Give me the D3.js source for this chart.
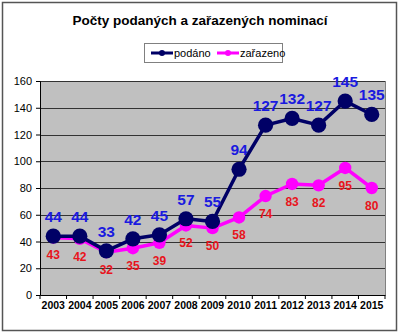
<!DOCTYPE html>
<html>
<head>
<meta charset="utf-8">
<script src="https://cdn.jsdelivr.net/npm/d3@7"></script>
<style>
  html, body { margin: 0; padding: 0; background: #fff; }
  svg { display: block; font-family: Arial, "Liberation Sans", sans-serif; }
</style>
</head>
<body>
<svg id="chart" width="399" height="334"></svg>
<script>
// Nominations per year
const years = ["2003","2004","2005","2006","2007","2008","2009","2010","2011","2012","2013","2014","2015"];
const podano = [44, 44, 33, 42, 45, 57, 55, 94, 127, 132, 127, 145, 135];
const zarazeno = [43, 42, 32, 35, 39, 52, 50, 58, 74, 83, 82, 95, 80];
const yTicks = [0, 20, 40, 60, 80, 100, 120, 140, 160];

const svg = d3.select("#chart");
const plot = { left: 40, right: 385, top: 81, bottom: 295 };

// outer frame
svg.append("rect")
  .attr("x", 2.5).attr("y", 2.5).attr("width", 394).attr("height", 328)
  .attr("fill", "#fff").attr("stroke", "#555").attr("stroke-width", 1.5);

// title
svg.append("text")
  .attr("x", 200).attr("y", 25)
  .attr("text-anchor", "middle")
  .attr("font-size", 13.5).attr("font-weight", "bold").attr("fill", "#000")
  .text("Počty podaných a zařazených nominací");

const x = d3.scaleBand().domain(years).range([plot.left, plot.right]);
const y = d3.scaleLinear().domain([0, 160]).range([plot.bottom, plot.top]);

// plot background
svg.append("rect")
  .attr("x", plot.left).attr("y", plot.top)
  .attr("width", plot.right - plot.left).attr("height", plot.bottom - plot.top)
  .attr("fill", "#c0c0c0");

// gridlines
svg.append("g")
  .selectAll("line")
  .data(yTicks.filter(d => d > 0))
  .join("line")
  .attr("x1", plot.left).attr("x2", plot.right)
  .attr("y1", d => Math.round(y(d)) + 0.5).attr("y2", d => Math.round(y(d)) + 0.5)
  .attr("stroke", "#333").attr("stroke-width", 1);

// right border of plot area
svg.append("line")
  .attr("x1", plot.right + 0.5).attr("x2", plot.right + 0.5)
  .attr("y1", plot.top).attr("y2", plot.bottom)
  .attr("stroke", "#808080");

// y axis
const yAxis = svg.append("g")
  .attr("transform", `translate(${plot.left},0)`)
  .call(d3.axisLeft(y).tickValues(yTicks).tickSize(4).tickPadding(4));
yAxis.select(".domain").attr("stroke", "#000");
yAxis.selectAll(".tick line").attr("stroke", "#000");
yAxis.selectAll("text").attr("font-size", 11).attr("fill", "#000")
  .attr("font-family", "Arial, 'Liberation Sans', sans-serif");

// x axis with ticks at category boundaries
const xAxis = svg.append("g")
  .attr("transform", `translate(0,${plot.bottom})`)
  .call(d3.axisBottom(x).tickSize(0).tickPadding(7));
xAxis.select(".domain").attr("stroke", "#000");
xAxis.selectAll("text").attr("font-size", 10.5).attr("font-weight", "bold").attr("fill", "#000")
  .attr("font-family", "Arial, 'Liberation Sans', sans-serif");
xAxis.selectAll("line.bound")
  .data(years.concat(["end"]))
  .join("line").attr("class", "bound")
  .attr("x1", (d, i) => plot.left + i * x.bandwidth())
  .attr("x2", (d, i) => plot.left + i * x.bandwidth())
  .attr("y1", 0).attr("y2", 4)
  .attr("stroke", "#000");

const cx = d => x(d) + x.bandwidth() / 2;
const line = d3.line().x(d => cx(d.year)).y(d => y(d.v));

function drawSeries(values, color, lw, r) {
  const data = years.map((yr, i) => ({ year: yr, v: values[i] }));
  svg.append("path").datum(data)
    .attr("d", line).attr("fill", "none")
    .attr("stroke", color).attr("stroke-width", lw).attr("stroke-linejoin", "round");
  svg.append("g").selectAll("circle").data(data).join("circle")
    .attr("cx", d => cx(d.year)).attr("cy", d => y(d.v)).attr("r", r)
    .attr("fill", color);
  return data;
}

const dZ = drawSeries(zarazeno, "#ff00ff", 3.5, 6.2);
const dP = drawSeries(podano, "#000066", 3.5, 7.6);

// value labels
svg.append("g").selectAll("text").data(dP).join("text")
  .attr("x", d => cx(d.year)).attr("y", d => y(d.v) - 14)
  .attr("text-anchor", "middle")
  .attr("font-size", 15.5).attr("font-weight", "bold").attr("fill", "#1a1adf")
  .text(d => d.v);

svg.append("g").selectAll("text").data(dZ).join("text")
  .attr("x", d => cx(d.year)).attr("y", d => y(d.v) + 22)
  .attr("text-anchor", "middle")
  .attr("font-size", 12).attr("font-weight", "bold").attr("fill", "#e8141c")
  .text(d => d.v);

// legend
const lg = svg.append("g");
lg.append("rect").attr("x", 144.5).attr("y", 43.5).attr("width", 138).attr("height", 19)
  .attr("fill", "#fff").attr("stroke", "#808080");
const items = [
  { name: "podáno", color: "#000066", x0: 151 },
  { name: "zařazeno", color: "#ff00ff", x0: 217 }
];
items.forEach(it => {
  lg.append("line").attr("x1", it.x0).attr("x2", it.x0 + 22)
    .attr("y1", 53).attr("y2", 53).attr("stroke", it.color).attr("stroke-width", 3);
  lg.append("circle").attr("cx", it.x0 + 11).attr("cy", 53).attr("r", 3).attr("fill", it.color);
  lg.append("text").attr("x", it.x0 + 23).attr("y", 57)
    .attr("font-size", 11).attr("fill", "#000").text(it.name);
});
</script>
</body>
</html>
